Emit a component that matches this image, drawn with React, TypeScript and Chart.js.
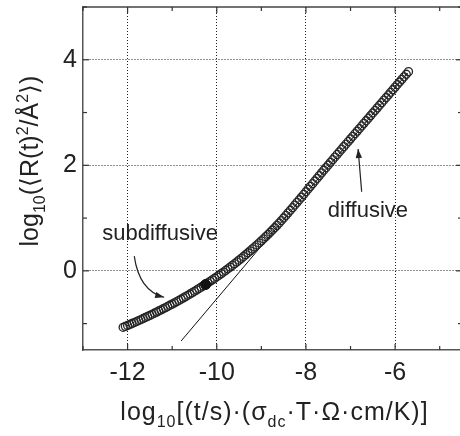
import React, { useEffect, useRef } from 'react';
import { Chart, registerables } from 'chart.js';

Chart.register(...registerables);

// ---- data ----
const curveX = [
  -12.1, -12.05, -12.0, -11.95, -11.9, -11.85, -11.8, -11.75, -11.7, -11.65,
  -11.6, -11.55, -11.5, -11.45, -11.4, -11.35, -11.3, -11.25, -11.2, -11.15,
  -11.1, -11.05, -11.0, -10.95, -10.9, -10.85, -10.8, -10.75, -10.7, -10.65,
  -10.6, -10.55, -10.5, -10.45, -10.4, -10.35, -10.3, -10.25, -10.2, -10.15,
  -10.1, -10.05, -10.0, -9.95, -9.9, -9.85, -9.8, -9.75, -9.7, -9.65,
  -9.6, -9.55, -9.5, -9.45, -9.4, -9.35, -9.3, -9.25, -9.2, -9.15,
  -9.1, -9.05, -9.0, -8.95, -8.9, -8.85, -8.8, -8.75, -8.7, -8.65,
  -8.6, -8.55, -8.5, -8.45, -8.4, -8.35, -8.3, -8.25, -8.2, -8.15,
  -8.1, -8.05, -8.0, -7.95, -7.9, -7.85, -7.8, -7.75, -7.7, -7.65,
  -7.6, -7.55, -7.5, -7.45, -7.4, -7.35, -7.3, -7.25, -7.2, -7.15,
  -7.1, -7.05, -7.0, -6.95, -6.9, -6.85, -6.8, -6.75, -6.7, -6.65,
  -6.6, -6.55, -6.5, -6.45, -6.4, -6.35, -6.3, -6.25, -6.2, -6.15,
  -6.1, -6.05, -6.0, -5.95, -5.9, -5.85, -5.8, -5.75, -5.7,
];
const curveY = [
  -1.07, -1.052, -1.035, -1.016, -0.998, -0.98, -0.961, -0.942, -0.923, -0.903,
  -0.884, -0.864, -0.844, -0.823, -0.803, -0.782, -0.761, -0.74, -0.718, -0.697,
  -0.675, -0.652, -0.63, -0.607, -0.584, -0.561, -0.537, -0.513, -0.489, -0.464,
  -0.439, -0.414, -0.388, -0.362, -0.336, -0.309, -0.282, -0.255, -0.227, -0.199,
  -0.171, -0.142, -0.113, -0.083, -0.053, -0.023, 0.008, 0.039, 0.071, 0.103,
  0.136, 0.169, 0.203, 0.237, 0.272, 0.307, 0.343, 0.379, 0.416, 0.453,
  0.491, 0.529, 0.568, 0.607, 0.648, 0.689, 0.731, 0.774, 0.817, 0.862,
  0.907, 0.953, 1.001, 1.05, 1.099, 1.148, 1.197, 1.247, 1.297, 1.347,
  1.397, 1.448, 1.499, 1.55, 1.601, 1.652, 1.703, 1.754, 1.805, 1.856,
  1.906, 1.956, 2.006, 2.056, 2.106, 2.156, 2.206, 2.256, 2.305, 2.354,
  2.403, 2.452, 2.501, 2.55, 2.599, 2.648, 2.697, 2.746, 2.795, 2.844,
  2.893, 2.942, 2.991, 3.04, 3.089, 3.138, 3.187, 3.236, 3.285, 3.334,
  3.383, 3.432, 3.481, 3.53, 3.579, 3.628, 3.677, 3.726, 3.775,
];
const slopeLineX = [-10.8, -5.72];
const slopeLineY = [-1.33, 3.75];
const markerX = [-10.25];
const markerY = [-0.26];

const xMin = -13;
const xMax = -4.5;
const yMin = -1.5;
const yMax = 5;
const xLabelTicks = [-12, -10, -8, -6];
const yLabelTicks = [0, 2, 4];

// ---- annotations (data coordinates) ----
const subLabel = { x: -11.27, y: 0.7, text: 'subdiffusive' };
const diffLabel = { x: -6.61, y: 1.14, text: 'diffusive' };
const subArrow = { x0: -11.85, y0: 0.28, cx: -11.74, cy: -0.38, x1: -11.18, y1: -0.5 };
const diffArrow = { x0: -6.75, y0: 1.5, x1: -6.83, y1: 2.31 };

const FONT = '"Liberation Sans", Arial, Helvetica, sans-serif';
const INK = '#222';

type Run = { t: string; k: 'n' | 'sub' | 'sup' };
const xTitle: Run[] = [
  { t: 'log', k: 'n' },
  { t: '10', k: 'sub' },
  { t: '[(t/s)·(σ', k: 'n' },
  { t: 'dc', k: 'sub' },
  { t: '·T·Ω·cm/K)]', k: 'n' },
];
const yTitle: Run[] = [
  { t: 'log', k: 'n' },
  { t: '10', k: 'sub' },
  { t: '(⟨R(t)', k: 'n' },
  { t: '2', k: 'sup' },
  { t: '/Å', k: 'n' },
  { t: '2', k: 'sup' },
  { t: '⟩)', k: 'n' },
];

function drawRuns(ctx: CanvasRenderingContext2D, runs: Run[], size: number, spacing: number) {
  const big = `${size}px ${FONT}`;
  const small = `${Math.round(size * 0.64)}px ${FONT}`;
  const c: any = ctx;
  c.letterSpacing = `${spacing}px`;
  let total = 0;
  runs.forEach((r) => {
    ctx.font = r.k === 'n' ? big : small;
    total += ctx.measureText(r.t).width;
  });
  let x = -total / 2;
  ctx.textBaseline = 'alphabetic';
  ctx.textAlign = 'left';
  runs.forEach((r) => {
    ctx.font = r.k === 'n' ? big : small;
    const dy = r.k === 'sub' ? size * 0.26 : r.k === 'sup' ? -size * 0.42 : 0;
    ctx.fillText(r.t, x, dy);
    x += ctx.measureText(r.t).width;
  });
  c.letterSpacing = '0px';
}

const framePlugin = {
  id: 'frameTicks',
  afterDatasetsDraw(chart: any) {
    const { ctx, chartArea: a, scales } = chart;
    const xs = scales.x;
    const ys = scales.y;
    ctx.save();
    ctx.strokeStyle = '#444';
    ctx.lineWidth = 1.5;
    ctx.beginPath();
    ctx.moveTo(a.left, a.top);
    ctx.lineTo(a.right, a.top);
    ctx.lineTo(a.right, a.bottom);
    ctx.stroke();
    ctx.lineWidth = 1.2;
    ctx.strokeStyle = '#333';
    const seg = (x1: number, y1: number, x2: number, y2: number) => {
      ctx.beginPath();
      ctx.moveTo(x1, y1);
      ctx.lineTo(x2, y2);
      ctx.stroke();
    };
    xs.ticks.forEach((t: any) => {
      const p = xs.getPixelForValue(t.value);
      const len = xLabelTicks.includes(t.value) ? 6 : 4;
      seg(p, a.bottom, p, a.bottom - len);
      seg(p, a.top, p, a.top + len);
    });
    ys.ticks.forEach((t: any) => {
      const p = ys.getPixelForValue(t.value);
      const len = yLabelTicks.includes(t.value) ? 6 : 4;
      seg(a.left, p, a.left + len, p);
      seg(a.right, p, a.right - len, p);
    });

    // annotations
    const px = (v: number) => xs.getPixelForValue(v);
    const py = (v: number) => ys.getPixelForValue(v);
    ctx.fillStyle = INK;
    ctx.font = `22px ${FONT}`;
    ctx.textAlign = 'center';
    ctx.textBaseline = 'middle';
    ctx.fillText(subLabel.text, px(subLabel.x), py(subLabel.y));
    ctx.fillText(diffLabel.text, px(diffLabel.x), py(diffLabel.y));

    const head = (fx: number, fy: number, tx: number, ty: number) => {
      const ang = Math.atan2(ty - fy, tx - fx);
      const L = 9;
      const W = 3.2;
      ctx.beginPath();
      ctx.moveTo(tx, ty);
      ctx.lineTo(tx - L * Math.cos(ang) + W * Math.sin(ang), ty - L * Math.sin(ang) - W * Math.cos(ang));
      ctx.lineTo(tx - L * Math.cos(ang) - W * Math.sin(ang), ty - L * Math.sin(ang) + W * Math.cos(ang));
      ctx.closePath();
      ctx.fill();
    };
    ctx.strokeStyle = INK;
    ctx.lineWidth = 1.2;
    ctx.beginPath();
    ctx.moveTo(px(subArrow.x0), py(subArrow.y0));
    ctx.quadraticCurveTo(px(subArrow.cx), py(subArrow.cy), px(subArrow.x1), py(subArrow.y1));
    ctx.stroke();
    head(px(subArrow.cx), py(subArrow.cy), px(subArrow.x1), py(subArrow.y1));

    ctx.beginPath();
    ctx.moveTo(px(diffArrow.x0), py(diffArrow.y0));
    ctx.lineTo(px(diffArrow.x1), py(diffArrow.y1));
    ctx.stroke();
    head(px(diffArrow.x0), py(diffArrow.y0), px(diffArrow.x1), py(diffArrow.y1));
    ctx.restore();
  },
  afterDraw(chart: any) {
    const { ctx, chartArea: a } = chart;
    ctx.save();
    ctx.fillStyle = INK;
    ctx.translate((a.left + a.right) / 2 + 2, 420);
    drawRuns(ctx, xTitle, 25, 1);
    ctx.restore();
    ctx.save();
    ctx.fillStyle = INK;
    ctx.translate(38, 161);
    ctx.rotate(-Math.PI / 2);
    drawRuns(ctx, yTitle, 25, 0);
    ctx.restore();
  },
};

export default function App() {
  const ref = useRef<HTMLCanvasElement>(null);
  useEffect(() => {
    if (!ref.current) return;
    const gridColor = (c: any) =>
      c.tick && (xLabelTicks.includes(c.tick.value) || yLabelTicks.includes(c.tick.value))
        ? '#222'
        : 'rgba(0,0,0,0)';
    const chart = new Chart(ref.current, {
      type: 'scatter',
      data: {
        datasets: [
          {
            label: 'marker',
            data: markerX.map((x, i) => ({ x, y: markerY[i] })),
            pointRadius: 5,
            pointBackgroundColor: '#111',
            pointBorderColor: '#111',
            order: 1,
          },
          {
            label: 'MSD',
            data: curveX.map((x, i) => ({ x, y: curveY[i] })),
            pointRadius: 4,
            pointBorderWidth: 1.3,
            pointBorderColor: '#242424',
            pointBackgroundColor: 'rgba(0,0,0,0)',
            order: 2,
          },
          {
            label: 'slope 1',
            type: 'line',
            data: slopeLineX.map((x, i) => ({ x, y: slopeLineY[i] })),
            showLine: true,
            borderColor: '#111',
            borderWidth: 1,
            pointRadius: 0,
            order: 3,
          } as any,
        ],
      },
      options: {
        responsive: false,
        animation: false,
        devicePixelRatio: 1,
        events: [],
        layout: { padding: { left: 0, right: 8, top: 7, bottom: 0 } },
        plugins: { legend: { display: false }, tooltip: { enabled: false } },
        scales: {
          x: {
            type: 'linear',
            min: xMin,
            max: xMax,
            afterFit: (s: any) => {
              s.height = 86;
              s.paddingLeft = 0;
              s.paddingRight = 0;
            },
            border: { display: true, color: '#555', width: 1.5, dash: [1, 2] },
            grid: { color: gridColor, lineWidth: 1, drawTicks: false },
            ticks: {
              stepSize: 1,
              includeBounds: false,
              autoSkip: false,
              maxRotation: 0,
              padding: 8,
              color: INK,
              font: { family: FONT, size: 25 },
              callback: (v: any) => (xLabelTicks.includes(Number(v)) ? String(v) : ''),
            },
          },
          y: {
            type: 'linear',
            min: yMin,
            max: yMax,
            afterFit: (s: any) => {
              s.width = 83;
              s.paddingTop = 0;
              s.paddingBottom = 0;
            },
            border: { display: true, color: '#555', width: 1.5, dash: [1, 2] },
            grid: { color: gridColor, lineWidth: 1, drawTicks: false },
            ticks: {
              stepSize: 1,
              includeBounds: false,
              autoSkip: false,
              padding: 6,
              color: INK,
              font: { family: FONT, size: 25 },
              callback: (v: any) => (yLabelTicks.includes(Number(v)) ? String(v) : ''),
            },
          },
        },
      },
      plugins: [framePlugin],
    } as any);
    return () => chart.destroy();
  }, []);
  return (
    <div
      style={{
        position: 'fixed',
        left: 0,
        top: 0,
        width: 460,
        height: 436,
        overflow: 'hidden',
        background: '#fff',
      }}
    >
      <canvas ref={ref} width={470} height={436} style={{ display: 'block' }} />
    </div>
  );
}
